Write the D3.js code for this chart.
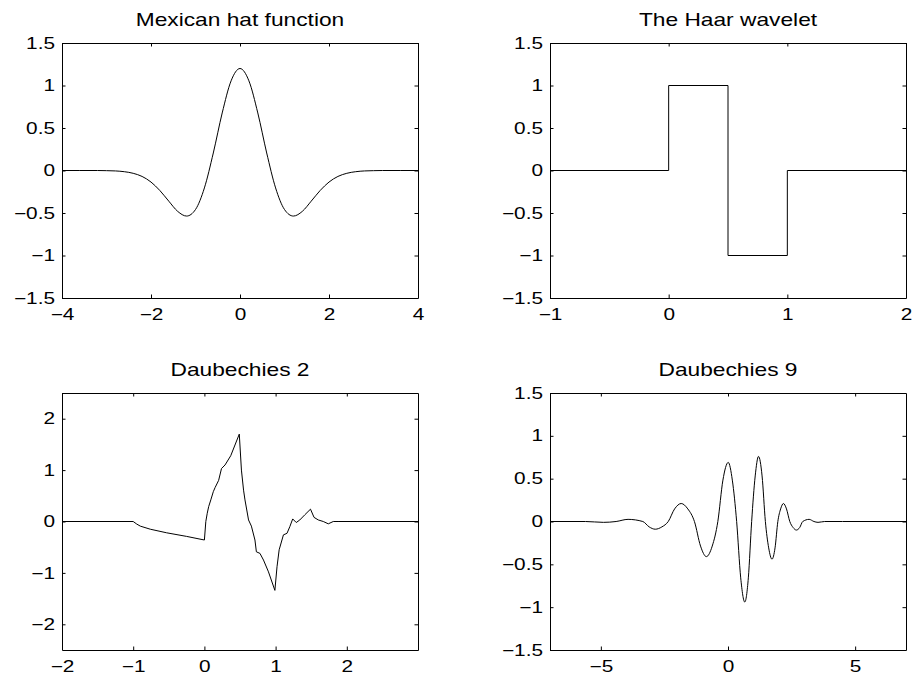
<!DOCTYPE html>
<html>
<head>
<meta charset="utf-8">
<script src="https://cdn.jsdelivr.net/npm/d3@7"></script>
<style>
	body { margin: 0; background: #fff; }
	text { font-family: "Liberation Sans", Arial, Helvetica, sans-serif; fill: #000; }
</style>
</head>
<body>
<div id="chart"></div>
<script>
//Mexican hat samples
var hatT = [-4, -3.6, -3.2, -3.0, -2.8, -2.6, -2.4, -2.2, -2.0, -1.8, -1.6, -1.4, -1.2, -1.0, -0.8, -0.6, -0.4, -0.2, 0,
	0.2, 0.4, 0.6, 0.8, 1.0, 1.2, 1.4, 1.6, 1.8, 2.0, 2.2, 2.4, 2.6, 2.8, 3.0, 3.2, 3.6, 4];
var hatV = [0, 0, 0, -0.002, -0.005, -0.014, -0.033, -0.070, -0.136, -0.236, -0.361, -0.481, -0.536, -0.459, -0.205, 0.206, 0.677, 1.055, 1.2,
	1.055, 0.677, 0.206, -0.205, -0.459, -0.536, -0.481, -0.361, -0.236, -0.136, -0.070, -0.033, -0.014, -0.005, -0.002, 0, 0, 0];

//Haar wavelet (step points)
var haarT = [-1, 0, 0.5, 1, 2];
var haarV = [0, 1, -1, 0, 0];

//Daubechies 2
var db2T = [-2, -1.0, -0.95, -0.9, -0.76, -0.53, -0.25, 0.0, 0.02, 0.04, 0.06, 0.09, 0.125, 0.15, 0.2, 0.24, 0.29, 0.37, 0.49,
	0.52, 0.55, 0.57, 0.62, 0.66, 0.71, 0.73, 0.78, 0.83, 0.90, 0.99,
	1.02, 1.05, 1.11, 1.16, 1.20, 1.24, 1.29, 1.34, 1.41, 1.49, 1.54, 1.60, 1.67, 1.74, 1.81, 1.89, 3];
var db2V = [0, 0, -0.05, -0.09, -0.15, -0.22, -0.29, -0.36, 0.0, 0.16, 0.29, 0.42, 0.58, 0.66, 0.80, 1.03, 1.10, 1.28, 1.70,
	1.0, 0.61, 0.42, 0.03, -0.09, -0.36, -0.59, -0.62, -0.75, -0.98, -1.34,
	-0.88, -0.55, -0.26, -0.23, -0.10, 0.05, -0.02, 0.03, 0.13, 0.24, 0.08, 0.03, 0.0, -0.045, 0.0, 0.0, 0];

//Daubechies 9
var db9T = [-7, -5.6, -4.9, -4.4, -3.93, -3.35, -3.1, -2.86, -2.6, -2.35, -2.1, -1.84, -1.58, -1.32, -1.08, -0.85, -0.62, -0.40, -0.2, 0.01,
	0.17, 0.34, 0.5, 0.66, 0.8, 0.93, 1.07, 1.20, 1.34, 1.47, 1.6, 1.73, 1.85, 1.96, 2.07, 2.18, 2.3, 2.43, 2.56, 2.69, 2.82, 2.94,
	3.19, 3.38, 3.54, 3.8, 4.5, 7];
var db9V = [0, 0, -0.01, 0, 0.025, 0, -0.063, -0.09, -0.063, 0, 0.147, 0.21, 0.147, 0, -0.287, -0.41, -0.287, 0, 0.483, 0.69,
	0.483, 0, -0.658, -0.94, -0.658, 0, 0.532, 0.76, 0.532, 0, -0.308, -0.44, -0.308, 0, 0.147, 0.21, 0.147, 0, -0.07, -0.10, -0.07, 0,
	0.025, 0, -0.01, 0, 0, 0];

//Tick values
var hatXTicks = [-4, -2, 0, 2, 4];
var haarXTicks = [-1, 0, 1, 2];
var db2XTicks = [-2, -1, 0, 1, 2];
var db2YTicks = [-2, -1, 0, 1, 2];
var db9XTicks = [-5, 0, 5];
var halfYTicks = [-1.5, -1, -0.5, 0, 0.5, 1, 1.5];

//Layout
var W = 356;
var TICK = 3.5;
var STRETCH = 1.3;
var fmt = d3.format("~g");

var svg = d3.select('#chart')
	.append('svg')
	.attr('width', 913)
	.attr('height', 679);

var panels = [
	{ title: "Mexican hat function", t: hatT, v: hatV, xDom: [-4, 4], yDom: [-1.5, 1.5], xTicks: hatXTicks, yTicks: halfYTicks,
		left: 62, top: 43, h: 255, curve: d3.curveMonotoneX },
	{ title: "The Haar wavelet", t: haarT, v: haarV, xDom: [-1, 2], yDom: [-1.5, 1.5], xTicks: haarXTicks, yTicks: halfYTicks,
		left: 550, top: 43, h: 255, curve: d3.curveStepAfter },
	{ title: "Daubechies 2", t: db2T, v: db2V, xDom: [-2, 3], yDom: [-2.5, 2.5], xTicks: db2XTicks, yTicks: db2YTicks,
		left: 62, top: 393, h: 257, curve: d3.curveLinear },
	{ title: "Daubechies 9", t: db9T, v: db9V, xDom: [-7, 7], yDom: [-1.5, 1.5], xTicks: db9XTicks, yTicks: halfYTicks,
		left: 550, top: 393, h: 257, curve: d3.curveMonotoneX }
];

var styleAxis = function(sel) {
	sel.attr('font-size', 16)
		.attr('font-family', '"Liberation Sans", Arial, Helvetica, sans-serif');
	sel.selectAll('text').attr('transform', 'scale(' + STRETCH + ',1)');
	sel.selectAll('path, line').attr('stroke', '#000');
};

panels.forEach(function(p) {
	var g = svg.append('g')
		.attr('transform', 'translate(' + p.left + ',' + p.top + ')');

	var x = d3.scaleLinear().domain(p.xDom).range([0, W]);
	var y = d3.scaleLinear().domain(p.yDom).range([p.h, 0]);

	//curve
	var line = d3.line()
		.x(function(d, i) { return x(p.t[i]); })
		.y(function(d) { return y(d); })
		.curve(p.curve);
	g.append('path')
		.datum(p.v)
		.attr('d', line)
		.attr('fill', 'none')
		.attr('stroke', '#000')
		.attr('stroke-width', 1);

	//axes, ticks pointing inward on all four sides
	g.append('g')
		.attr('transform', 'translate(0,' + p.h + ')')
		.call(d3.axisBottom(x).tickValues(p.xTicks).tickSize(-TICK).tickSizeOuter(0).tickPadding(11).tickFormat(fmt))
		.call(styleAxis);
	g.append('g')
		.call(d3.axisLeft(y).tickValues(p.yTicks).tickSize(-TICK).tickSizeOuter(0).tickPadding(7 / STRETCH).tickFormat(fmt))
		.call(styleAxis);
	g.append('g')
		.call(d3.axisTop(x).tickValues(p.xTicks).tickSize(-TICK).tickSizeOuter(0).tickFormat(''))
		.call(styleAxis);
	g.append('g')
		.attr('transform', 'translate(' + W + ',0)')
		.call(d3.axisRight(y).tickValues(p.yTicks).tickSize(-TICK).tickSizeOuter(0).tickFormat(''))
		.call(styleAxis);

	//title
	g.append('g')
		.attr('transform', 'translate(' + (W / 2) + ',-17)')
		.append('text')
		.attr('text-anchor', 'middle')
		.attr('font-size', 17.5)
		.attr('transform', 'scale(' + STRETCH + ',1)')
		.text(p.title);
});
</script>
</body>
</html>
